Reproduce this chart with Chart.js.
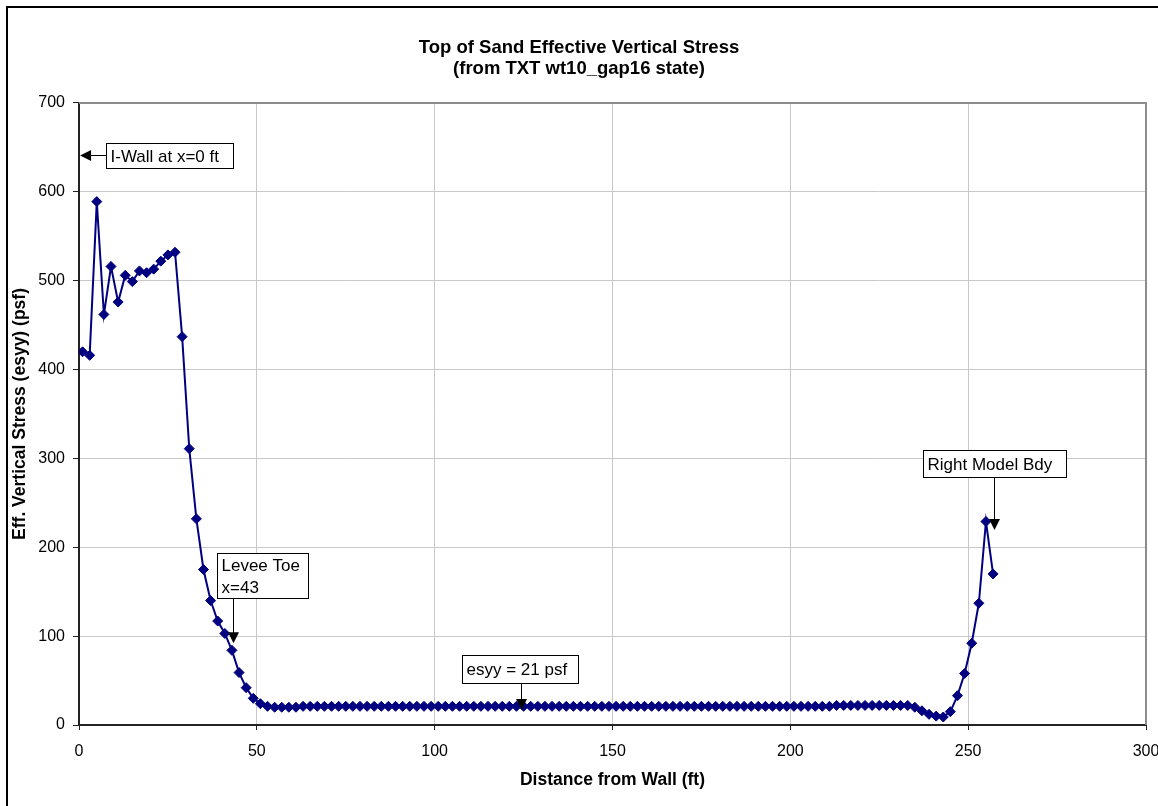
<!DOCTYPE html>
<html>
<head>
<meta charset="utf-8">
<script src="https://cdn.jsdelivr.net/npm/chart.js@4"></script>
<style>
  html, body { margin: 0; padding: 0; background: #fff; overflow: hidden; }
  #wrap { position: relative; width: 1158px; height: 806px; }
</style>
</head>
<body>
<div id="wrap"><canvas id="myChart"></canvas></div>
<script>
// distance from wall (ft)
var distance = [
  1, 3, 5, 7, 9, 11, 13, 15, 17, 19, 21, 23, 25, 27, 29, 31, 33, 35, 37, 39,
  41, 43, 45, 47, 49, 51, 53, 55, 57, 59, 61, 63, 65, 67, 69, 71, 73, 75, 77, 79,
  81, 83, 85, 87, 89, 91, 93, 95, 97, 99, 101, 103, 105, 107, 109, 111, 113, 115, 117, 119,
  121, 123, 125, 127, 129, 131, 133, 135, 137, 139, 141, 143, 145, 147, 149, 151, 153, 155, 157, 159,
  161, 163, 165, 167, 169, 171, 173, 175, 177, 179, 181, 183, 185, 187, 189, 191, 193, 195, 197, 199,
  201, 203, 205, 207, 209, 211, 213, 215, 217, 219, 221, 223, 225, 227, 229, 231, 233, 235, 237, 239,
  241, 243, 245, 247, 249, 251, 253, 255, 257
];

// effective vertical stress esyy (psf)
var esyy = [
  420, 416, 589, 462, 516, 476, 506, 499, 511, 509, 513, 522, 529, 532, 437, 311, 232, 175, 140, 117,
  103, 84, 59, 42, 30, 24, 21, 20, 20, 20, 20, 21, 21, 21, 21, 21, 21, 21, 21, 21,
  21, 21, 21, 21, 21, 21, 21, 21, 21, 21, 21, 21, 21, 21, 21, 21, 21, 21, 21, 21,
  21, 21, 21, 21, 21, 21, 21, 21, 21, 21, 21, 21, 21, 21, 21, 21, 21, 21, 21, 21,
  21, 21, 21, 21, 21, 21, 21, 21, 21, 21, 21, 21, 21, 21, 21, 21, 21, 21, 21, 21,
  21, 21, 21, 21, 21, 21, 22, 22, 22, 22, 22, 22, 22, 22, 22, 22, 22, 20, 16, 12,
  10, 9, 15, 33, 58, 92, 137, 229, 170
];

var xTicks = [0, 50, 100, 150, 200, 250, 300];
var yTicks = [0, 100, 200, 300, 400, 500, 600, 700];

// callouts: box extents and arrow tip, in data units
var notes = [
  { lines: ['I-Wall at x=0 ft'], x0: 7.6, x1: 43.3, y0: 655.3, y1: 627.2, tipX: 0.3, tipY: 642, dir: 'left' },
  { lines: ['Levee Toe', 'x=43'], x0: 38.8, x1: 64.4, y0: 194, y1: 142.6, tipX: 43.4, tipY: 92, dir: 'down' },
  { lines: ['esyy = 21 psf'], x0: 107.8, x1: 140.4, y0: 78.8, y1: 46.9, tipX: 124.2, tipY: 17, dir: 'down' },
  { lines: ['Right Model Bdy'], x0: 237.2, x1: 277.5, y0: 309.5, y1: 278.8, tipX: 257.3, tipY: 219.4, dir: 'down' }
];

var points = [];
for (var i = 0; i < distance.length; i++) {
  points.push({ x: distance[i], y: esyy[i] });
}

var FONT = "'Liberation Sans', Arial, sans-serif";

function drawArrow(ctx, x1, y1, x2, y2) {
  var a = Math.atan2(y2 - y1, x2 - x1);
  var len = 11, half = 5.5;
  ctx.beginPath();
  ctx.moveTo(x1, y1);
  ctx.lineTo(x2 - 6 * Math.cos(a), y2 - 6 * Math.sin(a));
  ctx.stroke();
  ctx.beginPath();
  ctx.moveTo(x2, y2);
  ctx.lineTo(x2 - len * Math.cos(a) + half * Math.sin(a), y2 - len * Math.sin(a) - half * Math.cos(a));
  ctx.lineTo(x2 - len * Math.cos(a) - half * Math.sin(a), y2 - len * Math.sin(a) + half * Math.cos(a));
  ctx.closePath();
  ctx.fill();
}

var decorations = {
  id: 'decorations',
  beforeDraw: function (chart) {
    var ctx = chart.ctx;
    ctx.save();
    ctx.fillStyle = '#fff';
    ctx.fillRect(0, 0, chart.width, chart.height);
    ctx.restore();
  },
  afterDatasetsDraw: function (chart) {
    var ctx = chart.ctx;
    var area = chart.chartArea;
    var xs = chart.scales.x, ys = chart.scales.y;
    ctx.save();

    // outer frame
    ctx.strokeStyle = '#000';
    ctx.lineWidth = 2;
    ctx.strokeRect(7, 7, 1170, 820);

    // plot frame top / right
    ctx.strokeStyle = '#8c8c8c';
    ctx.lineWidth = 2;
    ctx.beginPath();
    ctx.moveTo(area.left, area.top);
    ctx.lineTo(area.right, area.top);
    ctx.lineTo(area.right, area.bottom);
    ctx.stroke();

    // callouts
    ctx.font = '17px ' + FONT;
    ctx.textBaseline = 'middle';
    ctx.textAlign = 'left';
    notes.forEach(function (n) {
      var lineH = 21.7;
      var bx = Math.round(xs.getPixelForValue(n.x0)) + 0.5;
      var by = Math.round(ys.getPixelForValue(n.y0)) + 0.5;
      var bw = Math.round(xs.getPixelForValue(n.x1)) + 0.5 - bx;
      var bh = Math.round(ys.getPixelForValue(n.y1)) + 0.5 - by;
      var tx = xs.getPixelForValue(n.tipX);
      var ty = ys.getPixelForValue(n.tipY);

      ctx.strokeStyle = '#000';
      ctx.fillStyle = '#000';
      ctx.lineWidth = 1;
      if (n.dir === 'left') {
        drawArrow(ctx, bx, Math.round(ty) + 0.5, tx, Math.round(ty) + 0.5);
      } else {
        drawArrow(ctx, Math.round(tx) + 0.5, by + bh, Math.round(tx) + 0.5, ty);
      }

      ctx.fillStyle = '#fff';
      ctx.fillRect(bx, by, bw, bh);
      ctx.strokeStyle = '#000';
      ctx.strokeRect(bx, by, bw, bh);
      ctx.fillStyle = '#000';
      var cy = by + bh / 2 - (n.lines.length - 1) * lineH / 2;
      n.lines.forEach(function (t, k) {
        ctx.fillText(t, bx + 4, cy + k * lineH + 1);
      });
    });
    ctx.restore();
  }
};

var ctx = document.getElementById('myChart');

new Chart(ctx, {
  type: 'scatter',
  data: {
    datasets: [{
      label: 'esyy',
      data: points,
      showLine: true,
      borderColor: '#000080',
      backgroundColor: '#000080',
      borderWidth: 2,
      pointStyle: 'rectRot',
      pointRadius: 5,
      pointHoverRadius: 5,
      pointBorderWidth: 1
    }]
  },
  options: {
    responsive: true,
    maintainAspectRatio: false,
    animation: false,
    layout: { padding: { top: 0, left: 0, right: 0, bottom: 0 } },
    plugins: {
      legend: { display: false },
      tooltip: { enabled: false },
      title: {
        display: true,
        text: ['Top of Sand Effective Vertical Stress', '(from TXT wt10_gap16 state)'],
        color: '#000',
        font: { family: FONT, size: 18.5, weight: 'bold', lineHeight: 1.14 },
        padding: { top: 37.5, bottom: 23.3 }
      }
    },
    scales: {
      x: {
        type: 'linear',
        min: 0,
        max: 300,
        afterFit: function (scale) {
          scale.height = 81;
          scale.paddingRight = 12;
        },
        afterBuildTicks: function (scale) {
          scale.ticks = xTicks.map(function (v) { return { value: v }; });
        },
        ticks: {
          color: '#000',
          font: { family: FONT, size: 16 },
          padding: 12,
          maxRotation: 0
        },
        grid: {
          color: '#c8c8c8',
          tickColor: '#222',
          tickLength: 5,
          lineWidth: 1
        },
        border: { color: '#222', width: 2 },
        title: {
          display: true,
          text: 'Distance from Wall (ft)',
          color: '#000',
          font: { family: FONT, size: 17.5, weight: 'bold', lineHeight: 1.2 },
          padding: { top: 0, bottom: 15 }
        }
      },
      y: {
        type: 'linear',
        min: 0,
        max: 700,
        afterFit: function (scale) { scale.width = 79; },
        afterBuildTicks: function (scale) {
          scale.ticks = yTicks.map(function (v) { return { value: v }; });
        },
        ticks: {
          color: '#000',
          font: { family: FONT, size: 16 },
          padding: 8
        },
        grid: {
          color: '#c8c8c8',
          tickColor: '#222',
          tickLength: 6,
          lineWidth: 1
        },
        border: { color: '#222', width: 2 },
        title: {
          display: true,
          text: 'Eff. Vertical Stress (esyy) (psf)',
          color: '#000',
          font: { family: FONT, size: 17.5, weight: 'bold', lineHeight: 1.2 },
          padding: { top: 10, bottom: 0 }
        }
      }
    }
  },
  plugins: [decorations]
});
</script>
</body>
</html>
